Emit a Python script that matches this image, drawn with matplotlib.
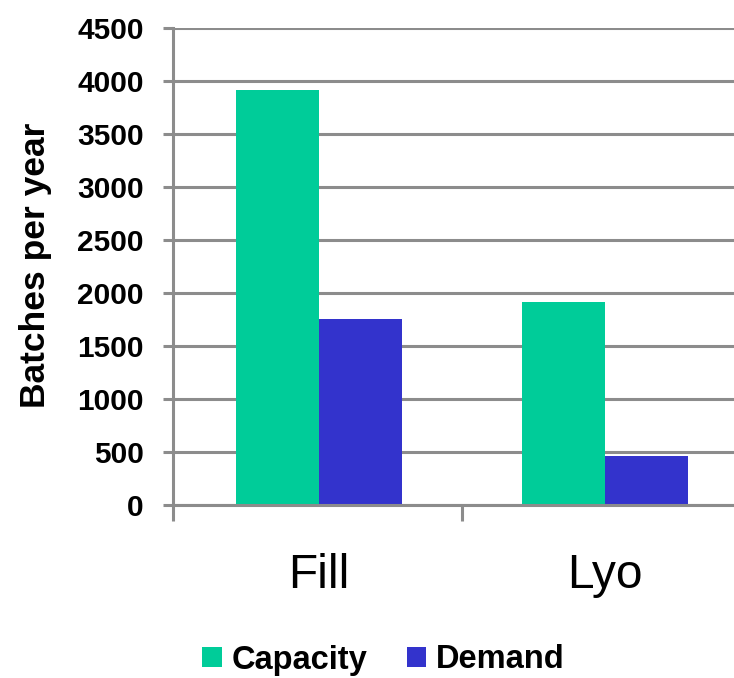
import matplotlib
matplotlib.use("Agg")
import matplotlib.pyplot as plt
from matplotlib.patches import Patch
import numpy as np

# Data
categories = ["Fill", "Lyo"]
series_names = ["Capacity", "Demand"]
capacity = [3910, 1910]
demand = [1755, 462]
y_ticks = [0, 500, 1000, 1500, 2000, 2500, 3000, 3500, 4000, 4500]

colors = ["#00CC99", "#3333CC"]
grid_color = "#8C8C8C"

plt.rcParams["font.family"] = ["Liberation Sans", "DejaVu Sans"]

W, H = 734, 678
fig = plt.figure(figsize=(W / 100, H / 100), dpi=100)

# axes box in pixel terms
left_px, right_px = 173, 748
top_px, bottom_px = 27.7, 504.5
ax = fig.add_axes([left_px / W, 1 - bottom_px / H,
                   (right_px - left_px) / W, (bottom_px - top_px) / H])

x = np.arange(len(categories))
bw = 0.29
ax.bar(x - bw / 2, capacity, bw, color=colors[0], linewidth=0, zorder=3)
ax.bar(x + bw / 2, demand, bw, color=colors[1], linewidth=0, zorder=3)

x_left = -0.509
ax.set_xlim(x_left, 1.5)
ax.set_ylim(0, 4500)

# horizontal gridlines
ax.set_yticks(y_ticks)
ax.set_yticklabels([str(v) for v in y_ticks], fontsize=21.5, fontweight="bold")
ax.yaxis.grid(True, color=grid_color, linewidth=2.2, zorder=1)
ax.set_axisbelow(True)
ax.tick_params(axis="y", direction="out", length=7.2, width=2.2,
               color=grid_color, pad=14)

# category separators as major ticks, labels on minor ticks
ax.set_xticks([x_left, 0.5])
ax.set_xticklabels(["", ""])
ax.tick_params(axis="x", which="major", direction="out", length=11.5,
               width=2.2, color=grid_color)
ax.set_xticks(x, minor=True)
ax.set_xticklabels(categories, minor=True, fontsize=34.5)
ax.tick_params(axis="x", which="minor", length=0, pad=35)

for s in ["top", "right"]:
    ax.spines[s].set_visible(False)
for s in ["left", "bottom"]:
    ax.spines[s].set_color(grid_color)
    ax.spines[s].set_linewidth(2.2)
    ax.spines[s].set_zorder(4)

fig.text(36 / W, 1 - 265 / H, "Batches per year", rotation=90,
         ha="center", va="center", fontsize=25.5, fontweight="bold")

handles = [Patch(facecolor=c, edgecolor="none", label=n)
           for c, n in zip(colors, series_names)]
fig.legend(handles=handles, loc="center", ncol=2,
           bbox_to_anchor=(383.5 / W, 1 - 660 / H), frameon=False,
           prop={"size": 23.5, "weight": "bold"},
           handlelength=0.6, handleheight=0.6, handletextpad=0.3,
           columnspacing=1.2, borderpad=0, borderaxespad=0)

fig.savefig("out.png", dpi=100)
